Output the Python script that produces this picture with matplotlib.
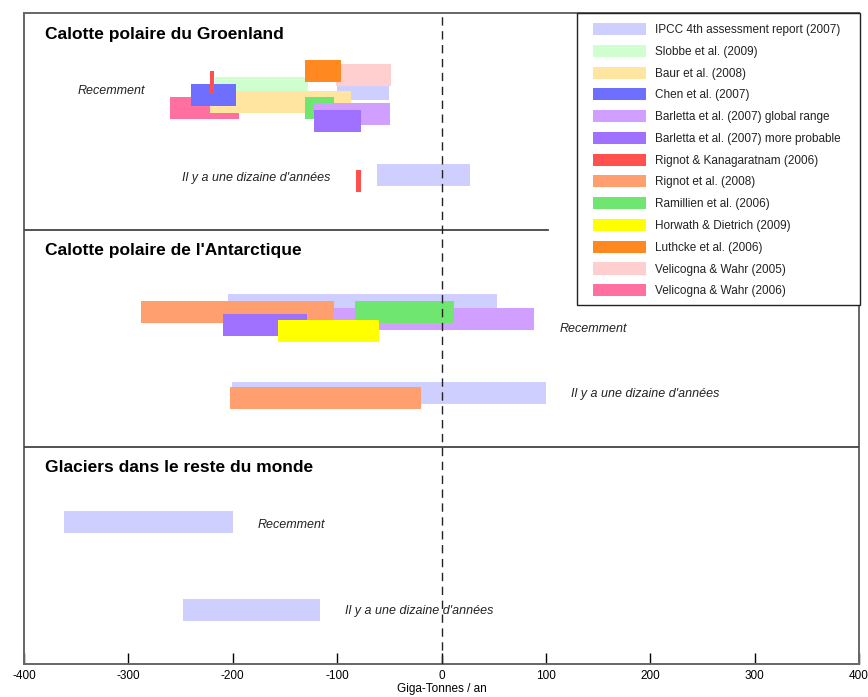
import matplotlib.pyplot as plt
from matplotlib.patches import Patch, Rectangle

plt.rcParams['font.family'] = ['Liberation Sans', 'DejaVu Sans']
plt.rcParams['axes.unicode_minus'] = False

# Studies shown in the legend
study_keys = ["ipcc", "slobbe", "baur", "chen", "barletta_range", "barletta_prob",
              "rignot_kan", "rignot08", "ramillien", "horwath", "luthcke",
              "velicogna05", "velicogna06"]
study_labels = ["IPCC 4th assessment report (2007)", "Slobbe et al. (2009)",
                "Baur et al. (2008)", "Chen et al. (2007)",
                "Barletta et al. (2007) global range",
                "Barletta et al. (2007) more probable",
                "Rignot & Kanagaratnam (2006)", "Rignot et al. (2008)",
                "Ramillien et al. (2006)", "Horwath & Dietrich (2009)",
                "Luthcke et al. (2006)", "Velicogna & Wahr (2005)",
                "Velicogna & Wahr (2006)"]
study_colors = ["#cfcfff", "#cfffcf", "#ffe5a0", "#6f6fff", "#d09fff", "#a070ff",
                "#ff4f4f", "#ff9f6f", "#6fe66f", "#ffff00", "#ff8820",
                "#ffcfcf", "#ff6f9f"]
color_of = dict(zip(study_keys, study_colors))

# Mass balance ranges in Gt/yr (low, high), listed in drawing order
gr_recent_keys = ["ipcc", "slobbe", "velicogna05", "luthcke", "velicogna06", "baur",
                  "chen", "rignot_kan", "ramillien", "barletta_range", "barletta_prob"]
gr_recent_low = [-100, -217, -101, -131, -260, -222, -240, -222, -131, -122, -122]
gr_recent_high = [-50, -128, -48, -96, -194, -87, -197, -218, -103, -49, -77]

gr_old_keys = ["ipcc", "rignot_kan"]
gr_old_low = [-62, -82]
gr_old_high = [27, -77]

ant_recent_keys = ["ipcc", "barletta_range", "rignot08", "barletta_prob",
                   "ramillien", "horwath"]
ant_recent_low = [-205, -209, -288, -209, -83, -157]
ant_recent_high = [53, 89, -103, -129, 12, -60]

ant_old_keys = ["ipcc", "rignot08"]
ant_old_low = [-201, -203]
ant_old_high = [100, -20]

gl_recent_keys = ["ipcc"]
gl_recent_low = [-362]
gl_recent_high = [-200]

gl_old_keys = ["ipcc"]
gl_old_low = [-248]
gl_old_high = [-116]

panel_titles = ["Calotte polaire du Groenland", "Calotte polaire de l'Antarctique",
                "Glaciers dans le reste du monde"]
row_labels = ["Recemment", "Il y a une dizaine d'années"]

# vertical layout (pixel-like units from the top of each panel)
panel_h = 217
bar_h = 22
gr_recent_rows = [65, 64, 51, 47, 84, 78, 71, 58, 84, 90, 97]
gr_old_rows = [151, 157]
ant_recent_rows = [64, 78, 71, 84, 71, 90]
ant_old_rows = [152, 157]
gl_recent_rows = [64]
gl_old_rows = [152]
label_rows = [(78, 165), (99, 164), (78, 164)]

fig = plt.figure(figsize=(8.68, 6.97), dpi=100)
ax = fig.add_axes([24 / 868, 1 - 664 / 697, 835 / 868, 651 / 697])
ax.set_xlim(-400, 400)
ax.set_ylim(3 * panel_h, 0)


def draw_group(keys, low, high, rows, top):
    for k, lo, hi, r in zip(keys, low, high, rows):
        ax.barh(top + r, hi - lo, left=lo, height=bar_h, align='edge',
                color=color_of[k], edgecolor='none', zorder=2)


panels = [
    (gr_recent_keys, gr_recent_low, gr_recent_high, gr_recent_rows,
     gr_old_keys, gr_old_low, gr_old_high, gr_old_rows, 'left'),
    (ant_recent_keys, ant_recent_low, ant_recent_high, ant_recent_rows,
     ant_old_keys, ant_old_low, ant_old_high, ant_old_rows, 'right'),
    (gl_recent_keys, gl_recent_low, gl_recent_high, gl_recent_rows,
     gl_old_keys, gl_old_low, gl_old_high, gl_old_rows, 'right'),
]

gap = 24
for i, (rk, rl, rh, rr, ok, ol, oh, orow, side) in enumerate(panels):
    top = i * panel_h
    draw_group(rk, rl, rh, rr, top)
    draw_group(ok, ol, oh, orow, top)
    ax.text(-380, top + 21, panel_titles[i], fontsize=12.5, fontweight='bold',
            va='center', ha='left')
    groups = [(rl, rh), (ol, oh)]
    for (lo, hi), lab, yl in zip(groups, row_labels, label_rows[i]):
        if side == 'left':
            ax.text(min(lo) - gap, top + yl, lab, style='italic', fontsize=9,
                    ha='right', va='center', color='#222222')
        else:
            ax.text(max(hi) + gap, top + yl, lab, style='italic', fontsize=9,
                    ha='left', va='center', color='#222222')

# panel separators and the zero line
ax.plot([-400, 102], [panel_h, panel_h], color='#444444', lw=1.3, zorder=3)
ax.axhline(2 * panel_h, color='#444444', lw=1.3, zorder=3)
ax.axvline(0, color='#222222', lw=1, ls=(0, (6, 4)), zorder=4)

ax.set_yticks([])
ax.set_xticks(range(-400, 401, 100))
ax.tick_params(axis='x', direction='in', length=8, width=1, labelsize=8.5, pad=4)
ax.set_xlabel('Giga-Tonnes / an', fontsize=8.5, labelpad=1)
for s in ax.spines.values():
    s.set_color('#666666')
    s.set_linewidth(1.4)

# legend box in the upper right corner
ax.add_patch(Rectangle((553 / 835, 1 - 292 / 651), 283 / 835, 292 / 651,
                       transform=ax.transAxes, facecolor='white',
                       edgecolor='#222222', lw=1, zorder=5, clip_on=False))
handles = [Patch(facecolor=c, edgecolor='none') for c in study_colors]
leg = ax.legend(handles, study_labels, loc='upper left',
                bbox_to_anchor=(569 / 835, 1 - 10 / 651), frameon=False,
                borderpad=0, borderaxespad=0, fontsize=8.5, handlelength=4.5,
                handleheight=1.2, handletextpad=0.76, labelspacing=0.74)
leg.set_zorder(6)
for t in leg.get_texts():
    t.set_color('#222222')

fig.savefig('out.png', dpi=100)
